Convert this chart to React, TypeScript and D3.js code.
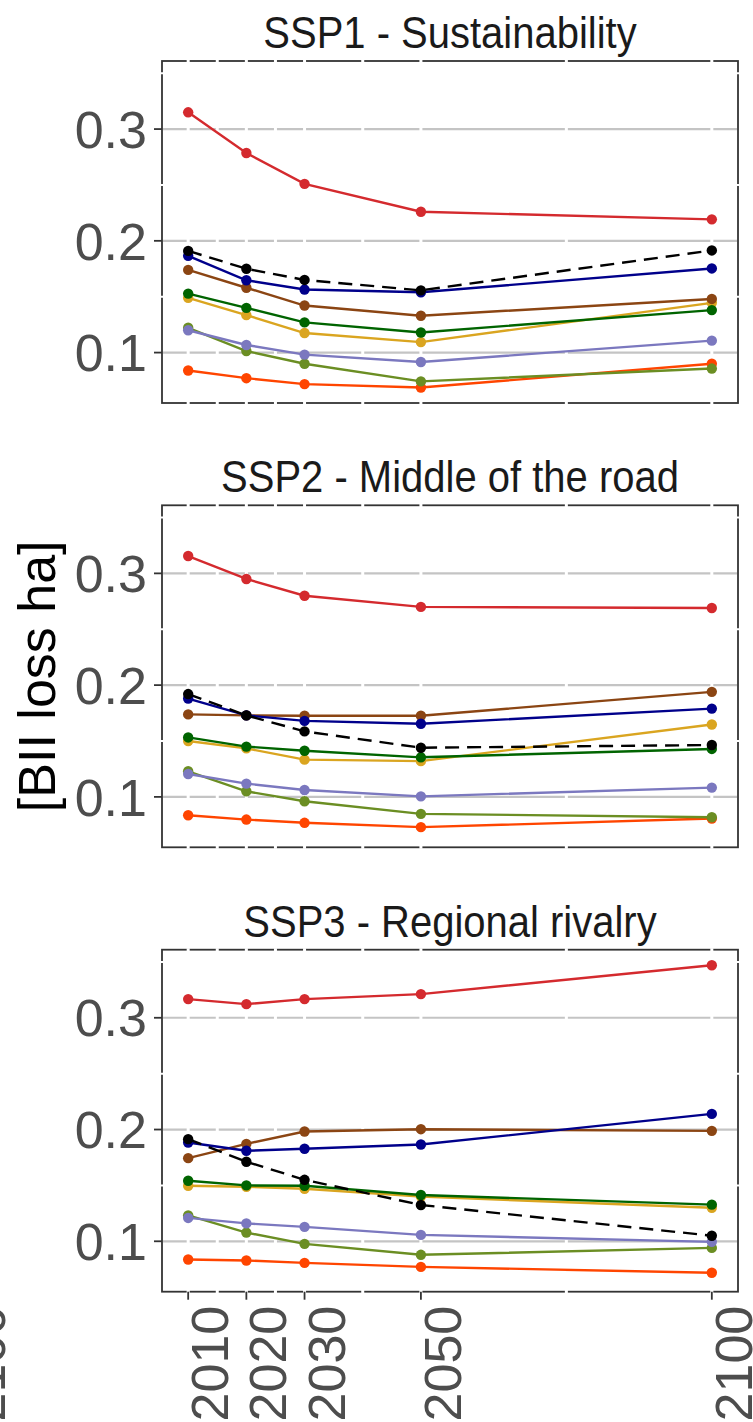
import React from "react";
import * as d3 from "d3";

const years = [2010, 2020, 2030, 2050, 2100];
const minorYears = [2015, 2025, 2040, 2075];
const yTicks = [0.1, 0.2, 0.3];
const yMinor = [0.15, 0.25, 0.35];
const panelTitles = ["SSP1 - Sustainability", "SSP2 - Middle of the road", "SSP3 - Regional rivalry"];
const seriesKeys = ["red", "gold", "green", "brown", "navy", "orange", "olive", "purple", "black"];
const seriesColors = ["#d42a2e", "#daa520", "#006400", "#8b4513", "#00008b", "#ff4500", "#6b8e23", "#7b78bf", "#000000"];

// values per panel, per series (order as seriesKeys), per year
const ssp1Red = [0.315, 0.2786, 0.251, 0.226, 0.2192];
const ssp1Gold = [0.149, 0.1335, 0.1175, 0.1094, 0.1445];
const ssp1Green = [0.1528, 0.14, 0.127, 0.118, 0.138];
const ssp1Brown = [0.174, 0.158, 0.1421, 0.133, 0.148];
const ssp1Navy = [0.1866, 0.1647, 0.1564, 0.154, 0.1753];
const ssp1Orange = [0.084, 0.0771, 0.0718, 0.0688, 0.09];
const ssp1Olive = [0.1222, 0.1014, 0.09, 0.0742, 0.0857];
const ssp1Purple = [0.12, 0.1068, 0.0982, 0.0916, 0.1107];
const ssp1Black = [0.191, 0.175, 0.165, 0.1557, 0.1914];

const ssp2Red = [0.3155, 0.295, 0.28, 0.27, 0.269];
const ssp2Gold = [0.15, 0.1434, 0.1333, 0.132, 0.1648];
const ssp2Green = [0.1532, 0.145, 0.1413, 0.1354, 0.1429];
const ssp2Brown = [0.1738, 0.1729, 0.1726, 0.1726, 0.194];
const ssp2Navy = [0.188, 0.1729, 0.168, 0.1654, 0.179];
const ssp2Orange = [0.0836, 0.0797, 0.0768, 0.0729, 0.0806];
const ssp2Olive = [0.1229, 0.105, 0.0961, 0.0848, 0.0818];
const ssp2Purple = [0.1205, 0.1119, 0.1062, 0.1005, 0.1083];
const ssp2Black = [0.192, 0.1729, 0.1586, 0.144, 0.1464];

const ssp3Red = [0.3167, 0.3122, 0.3167, 0.3212, 0.347];
const ssp3Gold = [0.1497, 0.1488, 0.147, 0.14, 0.13];
const ssp3Green = [0.1542, 0.15, 0.1497, 0.1414, 0.1328];
const ssp3Brown = [0.1744, 0.1872, 0.1982, 0.2003, 0.1988];
const ssp3Navy = [0.1884, 0.181, 0.1828, 0.1866, 0.214];
const ssp3Orange = [0.0837, 0.0828, 0.0807, 0.0771, 0.0718];
const ssp3Olive = [0.1232, 0.1078, 0.0977, 0.0879, 0.0941];
const ssp3Purple = [0.1209, 0.116, 0.1129, 0.1057, 0.0995];
const ssp3Black = [0.1914, 0.1712, 0.155, 0.1325, 0.105];

const panels = [
  [ssp1Red, ssp1Gold, ssp1Green, ssp1Brown, ssp1Navy, ssp1Orange, ssp1Olive, ssp1Purple, ssp1Black],
  [ssp2Red, ssp2Gold, ssp2Green, ssp2Brown, ssp2Navy, ssp2Orange, ssp2Olive, ssp2Purple, ssp2Black],
  [ssp3Red, ssp3Gold, ssp3Green, ssp3Brown, ssp3Navy, ssp3Orange, ssp3Olive, ssp3Purple, ssp3Black],
];

const W = 753;
const H = 1422;
const left = 162;
const right = 738;
const panelTop = [61, 505.3, 949.7];
const panelH = 342;
const FONT = "'Liberation Sans', Arial, Helvetica, sans-serif";

export default function App() {
  const allVals = panels.flat(2);
  const [mn, mx] = d3.extent(allVals) as [number, number];
  const pad = (mx - mn) * 0.05;
  const xr = d3.extent(years) as [number, number];
  const xpad = (xr[1] - xr[0]) * 0.05;
  const x = d3.scaleLinear().domain([xr[0] - xpad, xr[1] + xpad]).range([left, right]);

  return (
    <svg width={W} height={H} style={{ position: "absolute", left: 0, top: 0, background: "#fff" }}>
      <rect x={0} y={0} width={W} height={H} fill="#fff" />
      {panels.map((series, pi) => {
        const top = panelTop[pi];
        const bottom = top + panelH;
        const y = d3.scaleLinear().domain([mn - pad, mx + pad]).range([bottom, top]);
        const line = d3
          .line<number>()
          .x((_, i) => x(years[i]))
          .y((v) => y(v));
        return (
          <g key={pi}>
            <text
              transform={`translate(${(left + right) / 2},${top - 13}) scale(1,1.12)`}
              textAnchor="middle"
              fontFamily={FONT}
              fontSize={40}
              fill="#1a1a1a"
            >
              {panelTitles[pi]}
            </text>
            <rect x={left} y={top} width={right - left} height={panelH} fill="#fff" stroke="#333" strokeWidth={1.8} />
            {yTicks.map((t) => (
              <line key={"g" + t} x1={left + 1} x2={right - 1} y1={y(t)} y2={y(t)} stroke="#c4c4c4" strokeWidth={2.2} />
            ))}
            {yMinor.filter((t) => y(t) > top + 2).map((t) => (
              <line key={"m" + t} x1={left - 1.5} x2={right + 1.5} y1={y(t)} y2={y(t)} stroke="#fff" strokeWidth={2} />
            ))}
            {[...years, ...minorYears].map((t) => (
              <line key={"v" + t} x1={x(t)} x2={x(t)} y1={top - 1.5} y2={bottom + 1.5} stroke="#fff" strokeWidth={3} />
            ))}
            {yTicks.map((t) => (
              <g key={"t" + t}>
                <line x1={left - 8} x2={left} y1={y(t)} y2={y(t)} stroke="#333" strokeWidth={1.8} />
                <text
                  x={left - 15}
                  y={y(t)}
                  dy="0.36em"
                  textAnchor="end"
                  fontFamily={FONT}
                  fontSize={52}
                  fill="#4d4d4d"
                >
                  {t.toFixed(1)}
                </text>
              </g>
            ))}
            {series.map((vals, si) => {
              const color = seriesColors[si];
              const dashed = seriesKeys[si] === "black";
              return (
                <g key={si}>
                  <path
                    d={line(vals) || ""}
                    fill="none"
                    stroke={color}
                    strokeWidth={2.4}
                    strokeDasharray={dashed ? "14 8" : undefined}
                  />
                  {vals.map((v, i) => (
                    <circle key={i} cx={x(years[i])} cy={y(v)} r={5.2} fill={color} />
                  ))}
                </g>
              );
            })}
            {pi === panels.length - 1 &&
              years.map((t) => (
                <g key={"xt" + t}>
                  <line x1={x(t)} x2={x(t)} y1={bottom} y2={bottom + 8} stroke="#333" strokeWidth={1.8} />
                  <text
                    transform={`translate(${x(t) + 40},${bottom + 14}) rotate(-90)`}
                    textAnchor="end"
                    fontFamily={FONT}
                    fontSize={52}
                    fill="#4d4d4d"
                  >
                    {t}
                  </text>
                </g>
              ))}
          </g>
        );
      })}
      <text
        transform={`translate(5,${panelTop[2] + panelH + 14}) rotate(-90)`}
        textAnchor="end"
        fontFamily={FONT}
        fontSize={52}
        fill="#4d4d4d"
      >
        {years[years.length - 1]}
      </text>
      <text
        transform={`translate(55,${panelTop[1] + panelH / 2}) rotate(-90)`}
        textAnchor="middle"
        fontFamily={FONT}
        fontSize={52}
        fill="#000"
      >
        [BII loss ha]
      </text>
    </svg>
  );
}
